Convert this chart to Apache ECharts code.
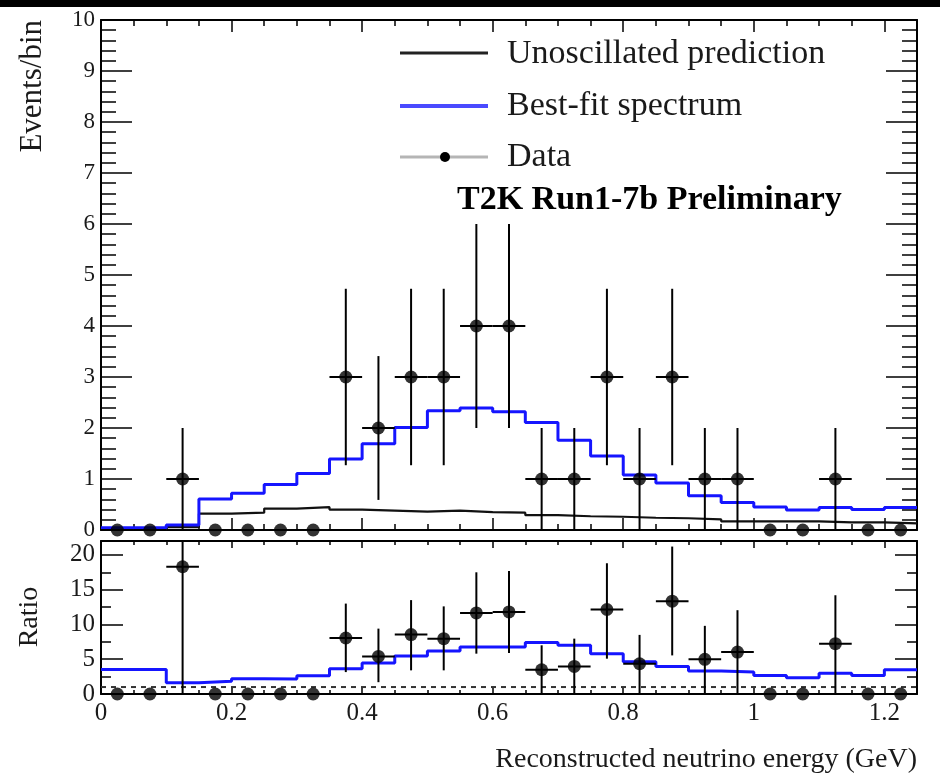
<!DOCTYPE html>
<html>
<head>
<meta charset="utf-8">
<script src="https://cdn.jsdelivr.net/npm/echarts@6/dist/echarts.min.js"></script>
<style>html,body{margin:0;padding:0;background:#fff;}#chart{width:940px;height:775px;}</style>
</head>
<body>
<div id="chart"></div>
<script>
// ---- data ----
const binEdges = [0,0.05,0.1,0.15,0.2,0.25,0.3,0.35,0.4,0.45,0.5,0.55,0.6,0.65,0.7,0.75,0.8,0.85,0.9,0.95,1.0,1.05,1.1,1.15,1.2,1.25];
const binCenters = [0.025,0.075,0.125,0.175,0.225,0.275,0.325,0.375,0.425,0.475,0.525,0.575,0.625,0.675,0.725,0.775,0.825,0.875,0.925,0.975,1.025,1.075,1.125,1.175,1.225];
const unoscPred = [0.013,0.013,0.055,0.32,0.34,0.42,0.45,0.40,0.38,0.36,0.38,0.35,0.34,0.29,0.27,0.26,0.24,0.23,0.21,0.17,0.17,0.17,0.15,0.15,0.13];
const bestFit = [0.045,0.045,0.10,0.61,0.72,0.89,1.11,1.39,1.69,2.01,2.34,2.39,2.32,2.11,1.76,1.45,1.08,0.92,0.67,0.54,0.45,0.39,0.44,0.40,0.44];
const dataCounts = [0,0,1,0,0,0,0,3,2,3,3,4,4,1,1,3,1,3,1,1,0,0,1,0,0];
const dataErrLow = [null,null,0,null,null,null,null,1.27,0.59,1.27,1.27,2,2,0,0,1.27,0,1.27,0,0,null,null,0,null,null];
const dataErrHigh = [null,null,2,null,null,null,null,4.73,3.41,4.73,4.73,6,6,2,2,4.73,2,4.73,2,2,null,null,2,null,null];
const ratioBestFit = [3.54,3.54,1.6,1.85,2.19,2.14,2.62,3.63,4.45,5.45,6.18,6.76,6.76,7.39,7.0,5.8,4.65,3.97,3.3,3.15,2.67,2.34,3.0,2.67,3.49];
const ratioData = [0,0,18.3,0,0,0,0,8.05,5.41,8.54,7.96,11.66,11.8,3.49,3.97,12.15,4.35,13.35,4.98,6.03,0,0,7.24,0,0];
const ratioErrLow = [null,null,0,null,null,null,null,3.15,1.7,3.4,3.4,5.8,5.9,0,0,5.08,0,5.55,0,0,null,null,0,null,null];
const ratioErrHigh = [null,null,36.6,null,null,null,null,13.0,9.4,13.5,12.6,17.5,17.7,7.0,7.96,18.8,8.5,21.2,9.8,12.05,null,null,14.2,null,null];
const ratioRef = [[0,1],[1.25,1]];
const topYMax = 10, botYMax = 22;

// ---- helpers ----
const FONT = '"Liberation Serif","DejaVu Serif",serif';
const TXT = '#1a1a1a';
function stepData(vals){ return binEdges.map((e,i)=>[e, vals[Math.min(i, vals.length-1)]]); }
function errData(vals, lo, hi){
  return binCenters.map((c,i)=>[c, vals[i], lo[i]==null?vals[i]:lo[i], hi[i]==null?vals[i]:hi[i], binEdges[i], binEdges[i+1]]);
}
function errRender(yMax){
  return function(params, api){
    const y = api.value(1), lo = api.value(2), hi = Math.min(api.value(3), yMax);
    const a = api.coord([api.value(4), y]), b = api.coord([api.value(5), y]);
    const ch = [{type:'line', shape:{x1:a[0],y1:a[1],x2:b[0],y2:b[1]}, style:{stroke:'#000', lineWidth:2}}];
    if (hi > lo) {
      const p = api.coord([api.value(0), lo]), q = api.coord([api.value(0), hi]);
      ch.push({type:'line', shape:{x1:p[0],y1:p[1],x2:q[0],y2:q[1]}, style:{stroke:'#000', lineWidth:2}});
    }
    return {type:'group', children: ch};
  };
}
function xAx(grid, pos, labels, maj, min){
  return {type:'value', gridIndex:grid, position:pos, min:0, max:1.25, interval:0.2,
    axisLine:{show:true, onZero:false, lineStyle:{color:'#000', width:2}},
    axisTick:{show:true, inside:true, length:maj, lineStyle:{color:'#000', width:1.5}},
    minorTick:{show:true, splitNumber:4, length:min, lineStyle:{color:'#000', width:1.5}},
    splitLine:{show:false},
    axisLabel:{show:labels, showMaxLabel:false, fontFamily:FONT, fontSize:25, color:TXT, margin:7}};
}
function yAx(grid, pos, labels, max, itv, split, maj, min, fs, margin){
  return {type:'value', gridIndex:grid, position:pos, min:0, max:max, interval:itv,
    axisLine:{show:true, onZero:false, lineStyle:{color:'#000', width:2}},
    axisTick:{show:true, inside:true, length:maj, lineStyle:{color:'#000', width:1.5}},
    minorTick:{show:true, splitNumber:split, length:min, lineStyle:{color:'#000', width:1.5}},
    splitLine:{show:false},
    axisLabel:{show:labels, showMaxLabel: max===topYMax, fontFamily:FONT, fontSize:fs, color:TXT, margin:margin}};
}

const chart = echarts.init(document.getElementById('chart'), null, {renderer:'canvas'});
chart.setOption({
  animation:false,
  backgroundColor:'#fff',
  grid:[
    {left:101, top:20, width:816, height:510, show:false},
    {left:101, top:541, width:816, height:153, show:false}
  ],
  xAxis:[
    xAx(0,'bottom',false,12,6),
    xAx(0,'top',false,12,6),
    xAx(1,'bottom',true,7,4),
    xAx(1,'top',false,7,4)
  ],
  yAxis:[
    yAx(0,'left',true,topYMax,1,5,31,15,23,6),
    yAx(0,'right',false,topYMax,1,5,31,15,23,6),
    yAx(1,'left',true,botYMax,5,2,22,10,25,6),
    yAx(1,'right',false,botYMax,5,2,22,10,25,6)
  ],
  series:[
    {type:'line', xAxisIndex:0, yAxisIndex:0, step:'end', data:stepData(unoscPred), showSymbol:false,
      lineStyle:{color:'#111', width:2.2}, z:2, silent:true},
    {type:'line', xAxisIndex:0, yAxisIndex:0, step:'end', data:stepData(bestFit), showSymbol:false,
      lineStyle:{color:'#1515ff', width:3}, z:3, silent:true},
    {type:'custom', xAxisIndex:0, yAxisIndex:0, data:errData(dataCounts,dataErrLow,dataErrHigh),
      renderItem:errRender(topYMax), encode:{x:0,y:1}, z:4, silent:true},
    {type:'scatter', xAxisIndex:0, yAxisIndex:0, data:binCenters.map((c,i)=>[c,dataCounts[i]]),
      symbol:'circle', symbolSize:13, itemStyle:{color:'#000'}, clip:false, z:5, silent:true},

    {type:'line', xAxisIndex:2, yAxisIndex:2, data:ratioRef, showSymbol:false,
      lineStyle:{color:'#333', width:2, type:[5,5]}, z:2, silent:true},
    {type:'line', xAxisIndex:2, yAxisIndex:2, step:'end', data:stepData(ratioBestFit), showSymbol:false,
      lineStyle:{color:'#1515ff', width:3}, z:3, silent:true},
    {type:'custom', xAxisIndex:2, yAxisIndex:2, data:errData(ratioData,ratioErrLow,ratioErrHigh),
      renderItem:errRender(botYMax), encode:{x:0,y:1}, z:4, silent:true},
    {type:'scatter', xAxisIndex:2, yAxisIndex:2, data:binCenters.map((c,i)=>[c,ratioData[i]]),
      symbol:'circle', symbolSize:13, itemStyle:{color:'#000'}, clip:false, z:5, silent:true}
  ],
  graphic:[
    {type:'rect', left:0, top:0, shape:{x:0,y:0,width:940,height:7}, style:{fill:'#000'}, z:100},
    // legend
    {type:'line', shape:{x1:400,y1:53,x2:488,y2:53}, style:{stroke:'#222', lineWidth:3}},
    {type:'text', x:507, y:54, style:{text:'Unoscillated prediction', font:'34px '+FONT, fill:TXT, textVerticalAlign:'middle'}},
    {type:'line', shape:{x1:400,y1:106,x2:488,y2:106}, style:{stroke:'#4a4aff', lineWidth:4}},
    {type:'text', x:507, y:106, style:{text:'Best-fit spectrum', font:'34px '+FONT, fill:TXT, textVerticalAlign:'middle'}},
    {type:'line', shape:{x1:400,y1:157,x2:488,y2:157}, style:{stroke:'#b5b5b5', lineWidth:3}},
    {type:'circle', shape:{cx:445,cy:157,r:5}, style:{fill:'#000'}},
    {type:'text', x:507, y:157, style:{text:'Data', font:'34px '+FONT, fill:TXT, textVerticalAlign:'middle'}},
    {type:'text', x:457, y:200, style:{text:'T2K Run1-7b Preliminary', font:'bold 34px '+FONT, fill:'#000', textVerticalAlign:'middle'}},
    // axis titles
    {type:'text', x:33, y:20, rotation:Math.PI/2, style:{text:'Events/bin', font:'31px '+FONT, fill:TXT, textAlign:'right', textVerticalAlign:'middle'}},
    {type:'text', x:30, y:617, rotation:Math.PI/2, style:{text:'Ratio', font:'28px '+FONT, fill:TXT, textAlign:'center', textVerticalAlign:'middle'}},
    {type:'text', x:917, y:760, style:{text:'Reconstructed neutrino energy (GeV)', font:'28px '+FONT, fill:TXT, textAlign:'right', textVerticalAlign:'middle'}}
  ]
});
</script>
</body>
</html>
